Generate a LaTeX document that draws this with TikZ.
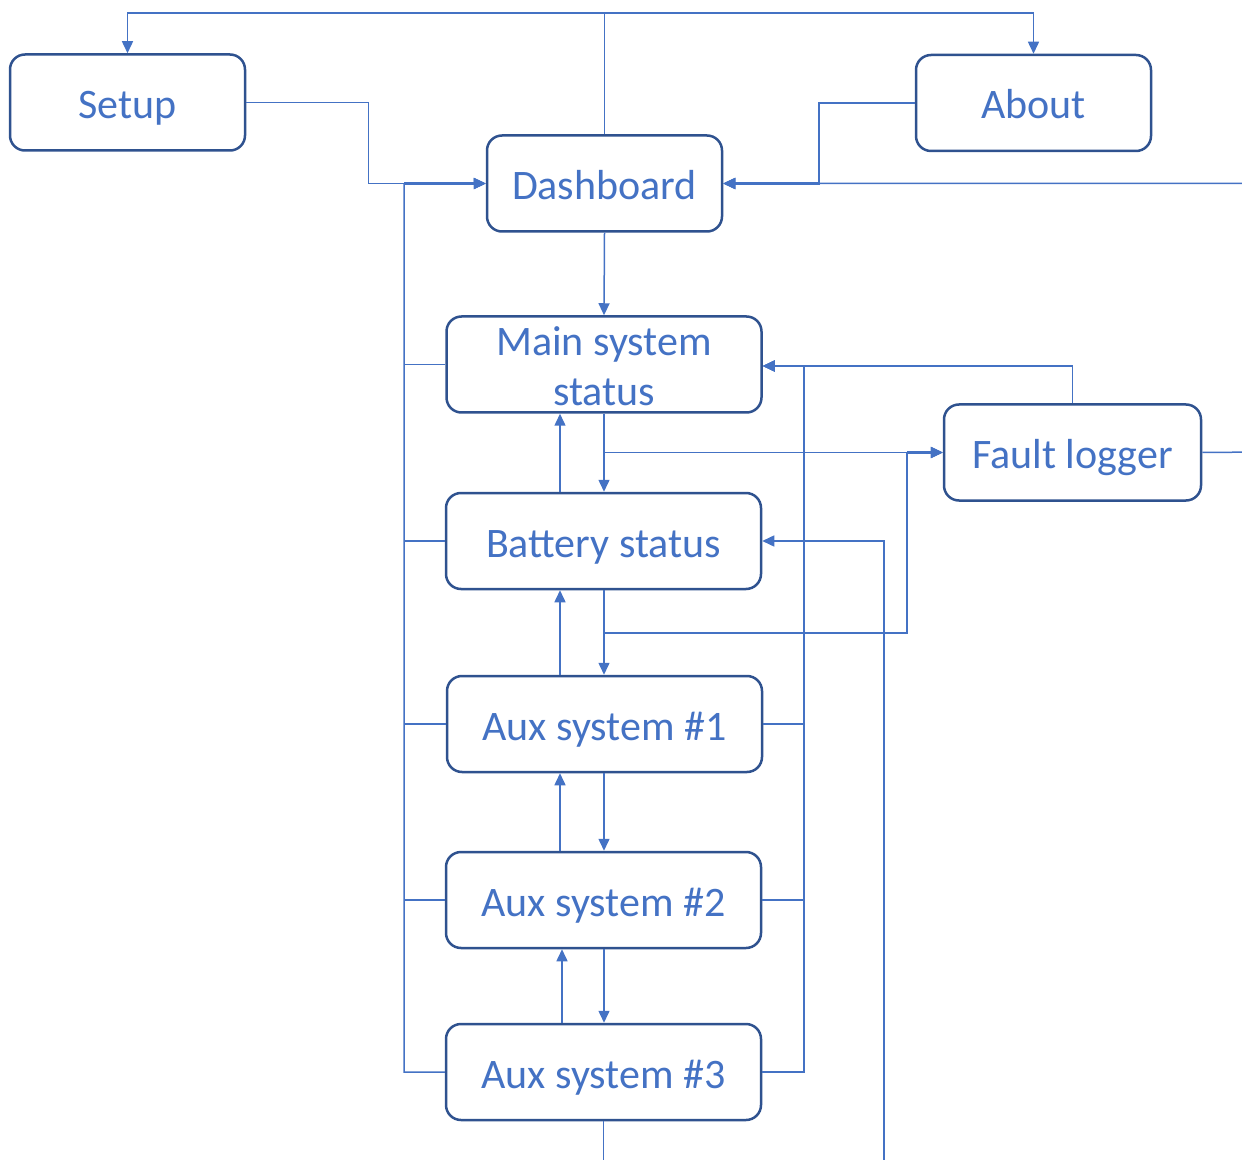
\documentclass[tikz,border=0pt]{standalone}
\usepackage{fontspec}
\setmainfont{Carlito}
\usetikzlibrary{arrows.meta}
\definecolor{txtblue}{HTML}{4472C4}
\definecolor{boxblue}{HTML}{2F528F}
\definecolor{lineblue}{HTML}{4472C4}
\tikzset{
  box/.style={draw=boxblue, line width=1.25pt, rounded corners=7.5pt, fill=white,
    text=txtblue, font=\fontsize{21}{25}\selectfont, align=center,
    text height=17.5pt, text depth=1.5pt,
    minimum width=157.5pt, minimum height=48pt, inner sep=0pt},
  conn/.style={draw=lineblue, line width=0.75pt},
  arr/.style={conn, -{Triangle[length=6pt,width=5.5pt]}},
  merged/.style={line width=1.15pt}
}
\begin{document}
\begin{tikzpicture}[x=0.5pt,y=-0.5pt]
\useasboundingbox (0,0) rectangle (1242,1160);
\clip (0,0) rectangle (1242,1160);
% nodes
\node[box, minimum width=117.5pt] (setup) at (127.5,102.5) {Setup};
\node[box, minimum width=117.5pt] (about) at (1033.5,103) {About};
\node[box, minimum width=117.5pt] (dash) at (604.5,183.5) {Dashboard};
\node[box, text height=42.5pt] (main) at (604,364.5) {Main system\\status};
\node[box] (bat) at (603.5,541) {Battery status};
\node[box, minimum width=128.5pt] (fault) at (1072.5,452.5) {Fault logger};
\node[box] (aux1) at (604.5,724) {Aux system \#1};
\node[box] (aux2) at (603.5,900) {Aux system \#2};
\node[box] (aux3) at (603.5,1072) {Aux system \#3};
% helper coordinates
\coordinate (top) at (604.5,13);
\coordinate (lb) at (404,184);
\coordinate (rb) at (804,366);
\coordinate (ab) at (820,184);
\coordinate (dx) at (604,0);
\coordinate (ux) at (560,0);
\coordinate (ux2) at (562,0);
\coordinate (bf) at (907,633);
\coordinate (bb) at (884,1170);
\coordinate (a3b) at (604,1170);
\coordinate (fr) at (1262,452);
% top links
\draw[conn] (dash.north) -- (top);
\draw[arr] (top) -| (setup.north);
\draw[arr] (top) -| (about.north);
% into dashboard
\draw[arr] (setup.east) -- ++(122,0) |- (dash.west);
\draw[arr] (about.west) -- ++(-96,0) |- (dash.east);
\draw[arr] (fault.east) -- (fr) |- (dash.east);
\draw[arr, merged] (dash.east -| ab) -- (dash.east);
% left bus
\draw[arr] (aux3.west) -| (lb) -- (dash.west);
\draw[arr, merged] (dash.west -| lb) -- (dash.west);
\draw[conn] (main.west) -- (main.west -| lb);
\draw[conn] (bat.west) -- (bat.west -| lb);
\draw[conn] (aux1.west) -- (aux1.west -| lb);
\draw[conn] (aux2.west) -- (aux2.west -| lb);
% dashboard to main
\draw[arr] (dash.south) -- (main.north);
% vertical chain
\draw[arr] (main.south -| dx) -- (bat.north -| dx);
\draw[arr] (bat.north -| ux) -- (main.south -| ux);
\draw[arr] (bat.south -| dx) -- (aux1.north -| dx);
\draw[arr] (aux1.north -| ux) -- (bat.south -| ux);
\draw[arr] (aux1.south -| dx) -- (aux2.north -| dx);
\draw[arr] (aux2.north -| ux) -- (aux1.south -| ux);
\draw[arr] (aux2.south -| dx) -- (aux3.north -| dx);
\draw[arr] (aux3.north -| ux2) -- (aux2.south -| ux2);
\draw[conn] (aux3.south) -- (aux3.south |- a3b);
% right bus to main
\draw[arr] (aux3.east) -| (rb) -- (main.east |- rb);
\draw[conn] (aux1.east) -- (aux1.east -| rb);
\draw[conn] (aux2.east) -- (aux2.east -| rb);
\draw[arr] (fault.north) |- (main.east |- rb);
\draw[arr, merged] (rb) -- (main.east |- rb);
% into fault logger
\draw[arr] (fault.west -| dx) -- (fault.west);
\draw[arr] (bat.south -| dx) |- (bf) |- (fault.west);
\draw[arr, merged] (fault.west -| bf) -- (fault.west);
% into battery
\draw[arr] (bb) |- (bat.east);
\end{tikzpicture}
\end{document}
